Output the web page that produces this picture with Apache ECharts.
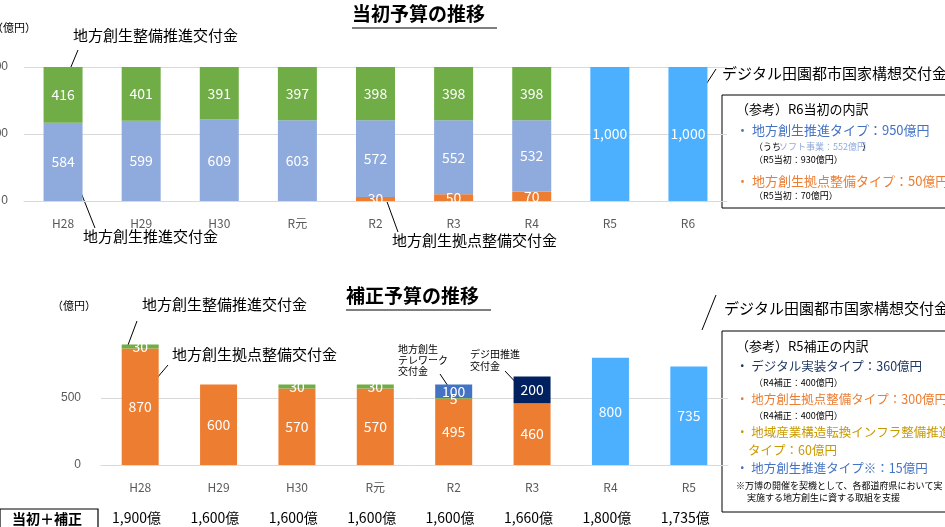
<!DOCTYPE html>
<html><head><meta charset="utf-8">
<script src="https://cdn.jsdelivr.net/npm/echarts@6/dist/echarts.min.js"></script>
<style>html,body{margin:0;background:#fff}#chart1{width:945px;height:527px}</style>
</head><body><div id="chart1"></div>
<script>
document.addEventListener('DOMContentLoaded', function () {
  var myChart = echarts.init(document.getElementById('chart1'));
  var F = '"Noto Sans CJK JP", sans-serif';

  // 当初予算（億円）
  var years1 = ['H28', 'H29', 'H30', 'R元', 'R2', 'R3', 'R4', 'R5', 'R6'];
  var kyoten1 = [null, null, null, null, 30, 50, 70, null, null];
  var suishin1 = [584, 599, 609, 603, 572, 552, 532, null, null];
  var seibi1 = [416, 401, 391, 397, 398, 398, 398, null, null];
  var digi1 = [null, null, null, null, null, null, null, 1000, 1000];

  // 補正予算（億円）
  var years2 = ['H28', 'H29', 'H30', 'R元', 'R2', 'R3', 'R4', 'R5'];
  var kyoten2 = [870, 600, 570, 570, 495, 460, null, null];
  var seibi2 = [30, null, 30, 30, 5, null, null, null];
  var tele2 = [null, null, null, null, 100, null, null, null];
  var dejiden2 = [null, null, null, null, null, 200, null, null];
  var digi2 = [null, null, null, null, null, null, 800, 735];
  var totals = ['1,900億', '1,600億', '1,600億', '1,600億', '1,600億', '1,660億', '1,800億', '1,735億'];

  var lbl = {show: true, color: '#fff', fontSize: 14, fontFamily: F};
  function bar(name, data, color, xi, stack) {
    return {name: name, type: 'bar', stack: stack, xAxisIndex: xi, yAxisIndex: xi, data: data,
      barWidth: xi === 0 ? 39 : 37, itemStyle: {color: color}, label: lbl};
  }

  var graphic = [];
  function txt(x, y, s, size, color, extra) {
    var st = {text: s, fontSize: size, fill: color || '#000', fontFamily: F};
    for (var k in extra) st[k] = extra[k];
    graphic.push({type: 'text', left: x, top: y, style: st});
  }
  function line(x1, y1, x2, y2) {
    graphic.push({type: 'line', shape: {x1: x1, y1: y1, x2: x2, y2: y2}, style: {stroke: '#000', lineWidth: 1}});
  }
  txt(352, 4, '当初予算の推移', 19, '#000', {fontWeight: 'bold'});
  line(352, 28, 497, 28);
  txt(346, 286, '補正予算の推移', 19, '#000', {fontWeight: 'bold'});
  line(346, 310, 491, 310);
  txt(-8, 22, '（億円）', 11);
  txt(52, 300, '（億円）', 11);

  txt(73, 28, '地方創生整備推進交付金', 15); line(78, 50, 68, 74);
  txt(83, 229, '地方創生推進交付金', 15); line(95, 228, 76, 180);
  txt(392, 233, '地方創生拠点整備交付金', 15); line(398, 232, 386, 199);
  txt(722, 66, 'デジタル田園都市国家構想交付金', 15); line(716, 69, 705, 86);

  txt(142, 297, '地方創生整備推進交付金', 15); line(137, 321, 128, 345);
  txt(172, 347, '地方創生拠点整備交付金', 15); line(168, 365, 140, 398);
  txt(398, 344, '地方創生\nテレワーク\n交付金', 10, '#000', {lineHeight: 11});
  line(440, 374, 452, 392);
  txt(470, 348, 'デジ田推進\n交付金', 10, '#000', {lineHeight: 12});
  line(505, 371, 521, 388);
  txt(724, 301, 'デジタル田園都市国家構想交付金', 15); line(716, 295, 702, 330);

  // 参考ボックス
  graphic.push({type: 'rect', shape: {x: 722, y: 95, width: 240, height: 113}, style: {fill: '#fff', stroke: '#000', lineWidth: 1}});
  txt(736, 103, '（参考）R6当初の内訳', 13);
  txt(736, 124, '・ 地方創生推進タイプ：950億円', 13, '#4472c4');
  txt(754, 142, '（うち', 9);
  txt(779, 142, 'ソフト事業：552億円', 9, '#8faadc');
  txt(862, 142, '）', 9);
  txt(754, 155, '（R5当初：930億円）', 9);
  txt(736, 175, '・ 地方創生拠点整備タイプ：50億円', 13, '#ed7d31');
  txt(754, 191, '（R5当初：70億円）', 9);

  graphic.push({type: 'rect', shape: {x: 722, y: 331, width: 240, height: 181}, style: {fill: '#fff', stroke: '#000', lineWidth: 1}});
  txt(736, 340, '（参考）R5補正の内訳', 13);
  txt(736, 360, '・ デジタル実装タイプ：360億円', 12.5, '#1f3864');
  txt(754, 378, '（R4補正：400億円）', 9);
  txt(736, 393, '・ 地方創生拠点整備タイプ：300億円', 12.5, '#ed7d31');
  txt(754, 411, '（R4補正：400億円）', 9);
  txt(736, 426, '・ 地域産業構造転換インフラ整備推進', 12.5, '#c99a00');
  txt(748, 444, 'タイプ：60億円', 12.5, '#c99a00');
  txt(736, 462, '・ 地方創生推進タイプ※：15億円', 12.5, '#4472c4');
  txt(736, 481, '※万博の開催を契機として、各都道府県において実', 9);
  txt(747, 493, '実施する地方創生に資する取組を支援', 9);

  // 当初＋補正
  graphic.push({type: 'rect', shape: {x: 0, y: 509, width: 98, height: 24}, style: {fill: '#fff', stroke: '#000', lineWidth: 1.2}});
  txt(12, 512, '当初＋補正', 14, '#000', {fontWeight: 'bold'});
  for (var i = 0; i < totals.length; i++) {
    graphic.push({type: 'text', left: 140 + i * 78.4 - 28, top: 511,
      style: {text: totals[i], fontSize: 14, fill: '#000', fontFamily: F}});
  }

  var axisCommon = {
    type: 'category', axisLine: {show: true, lineStyle: {color: '#d9d9d9'}}, axisTick: {show: false},
    axisLabel: {color: '#595959', fontSize: 12, fontFamily: F, margin: 16}
  };
  var yCommon = {
    type: 'value', min: 0, max: 1000, interval: 500,
    axisLine: {show: false}, axisTick: {show: false}
  };

  var option = {
    animation: false,
    grid: [
      {left: 24, right: 218, top: 67, height: 134, outerBoundsMode: 'none', containLabel: false},
      {left: 101, right: 217, top: 331, height: 134, outerBoundsMode: 'none', containLabel: false}
    ],
    xAxis: [
      Object.assign({}, axisCommon, {gridIndex: 0, data: years1}),
      Object.assign({}, axisCommon, {gridIndex: 1, data: years2})
    ],
    yAxis: [
      Object.assign({}, yCommon, {gridIndex: 0,
        splitLine: {lineStyle: {color: '#d9d9d9'}},
        axisLabel: {color: '#595959', fontSize: 12, margin: 16, formatter: function (v) { return v === 1000 ? '1,000' : v; }}}),
      Object.assign({}, yCommon, {gridIndex: 1,
        splitLine: {lineStyle: {color: ['#d9d9d9', '#d9d9d9', 'rgba(0,0,0,0)']}},
        axisLabel: {color: '#595959', fontSize: 12, margin: 20, formatter: function (v) { return v === 1000 ? '' : v; }}})
    ],
    series: [
      bar('地方創生拠点整備交付金', kyoten1, '#ed7d31', 0, 'a'),
      bar('地方創生推進交付金', suishin1, '#8faadc', 0, 'a'),
      bar('地方創生整備推進交付金', seibi1, '#70ad47', 0, 'a'),
      Object.assign(bar('デジタル田園都市国家構想交付金', digi1, '#4db0ff', 0, 'a'), {label: Object.assign({}, lbl, {formatter: '1,000'})}),
      bar('地方創生拠点整備交付金', kyoten2, '#ed7d31', 1, 'b'),
      bar('地方創生整備推進交付金', seibi2, '#70ad47', 1, 'b'),
      bar('地方創生テレワーク交付金', tele2, '#4472c4', 1, 'b'),
      bar('デジ田推進交付金', dejiden2, '#002060', 1, 'b'),
      bar('デジタル田園都市国家構想交付金', digi2, '#4db0ff', 1, 'b')
    ],
    graphic: graphic
  };

  myChart.setOption(option);
});
</script>
</body></html>
